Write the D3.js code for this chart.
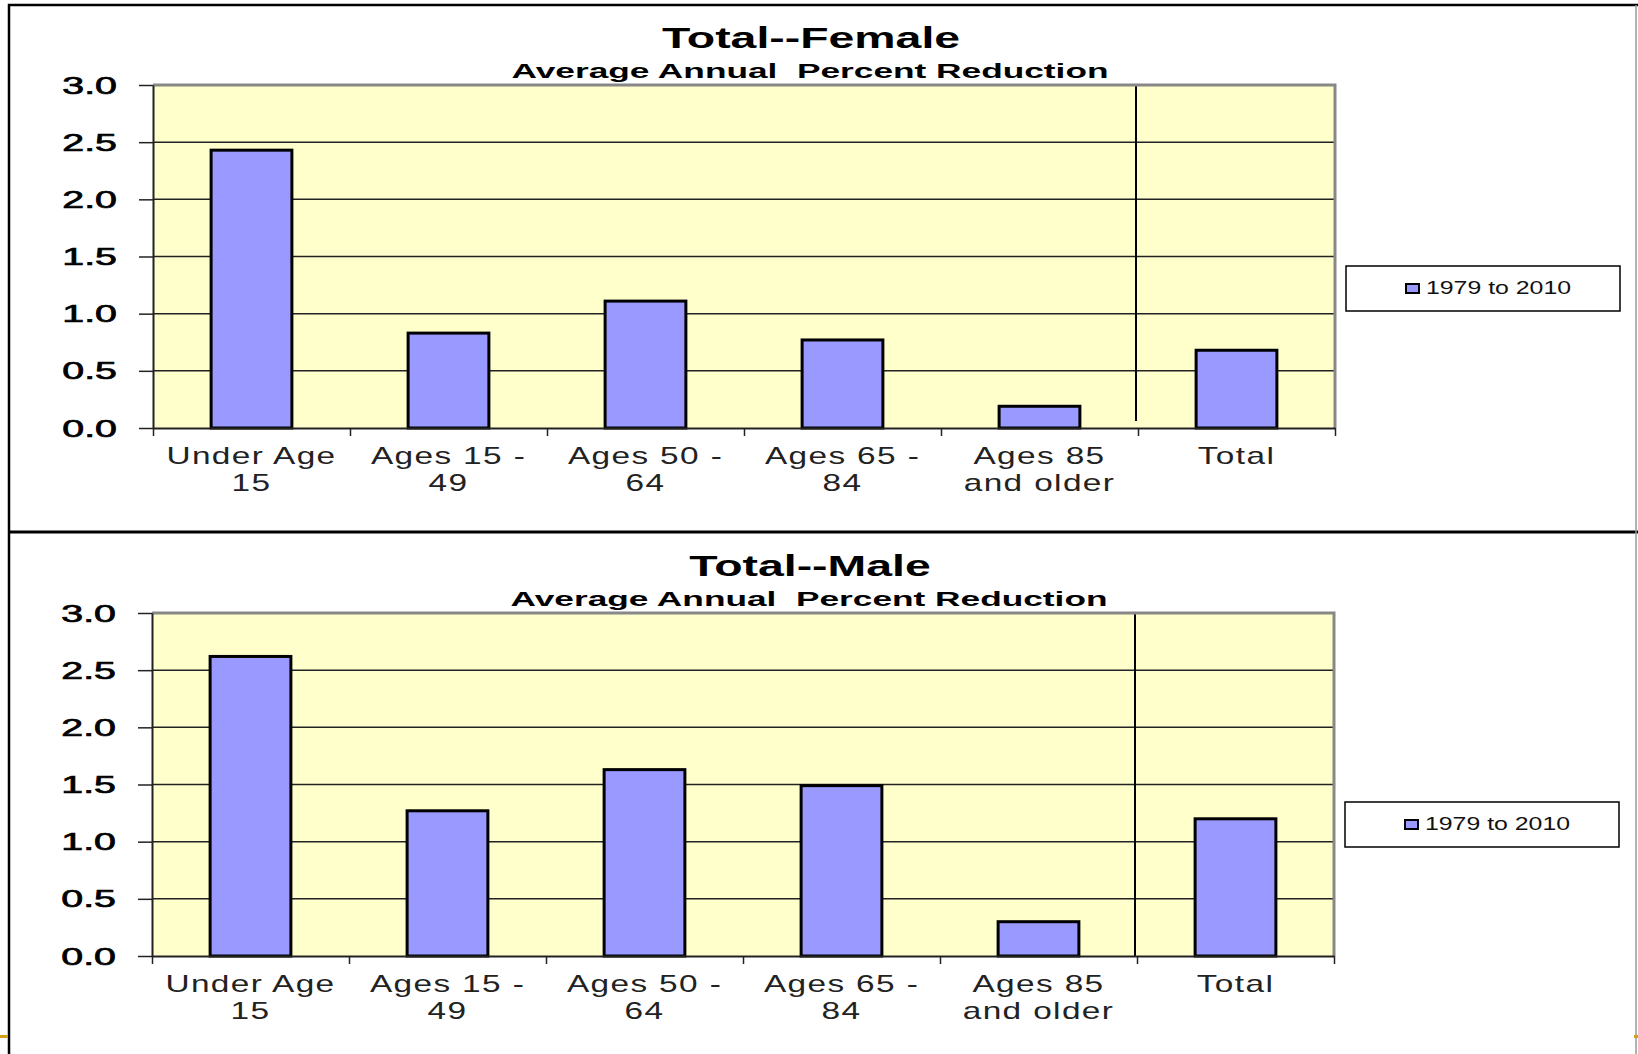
<!DOCTYPE html>
<html>
<head>
<meta charset="utf-8">
<script src="https://cdn.jsdelivr.net/npm/d3@7"></script>
<style>
  body { margin: 0; background: #fff; }
  text { font-family: "Liberation Sans", Arial, sans-serif; fill: #000; }
</style>
</head>
<body>
<div id="chart"></div>
<script>
// data
const categories = ["Under Age 15", "Ages 15 - 49", "Ages 50 - 64", "Ages 65 - 84", "Ages 85 and older", "Total"];
const categoryLines = [["Under Age", "15"], ["Ages 15 -", "49"], ["Ages 50 -", "64"], ["Ages 65 -", "84"], ["Ages 85", "and older"], ["Total"]];
const femaleValues = [2.43, 0.83, 1.11, 0.77, 0.19, 0.68];
const maleValues = [2.62, 1.27, 1.63, 1.49, 0.30, 1.20];
const yTicks = [0, 0.5, 1.0, 1.5, 2.0, 2.5, 3.0];
const panelTitles = ["Total--Female", "Total--Male"];
const subTitle = "Average Annual  Percent Reduction";
const seriesName = "1979 to 2010";

const W = 1638, H = 1054;
const barColor = "#9999ff", plotColor = "#ffffcc";

const svg = d3.select("#chart").append("svg")
    .attr("width", W)
    .attr("height", H);

svg.append("rect").attr("width", W).attr("height", H).attr("fill", "#fff");

// text in the original is stretched sideways
function stretch(sel, sx, dx, dy) {
    sel.attr("x", 0).attr("y", 0)
        .attr("transform", `translate(${dx || 0},${dy || 0}) scale(${sx},1)`);
}

function drawPanel(p) {
    const g = svg.append("g").attr("transform", `translate(${p.shift},${p.top})`);

    const x = d3.scaleBand().domain(categories).range([153, 1335]);
    const xEdge = d3.scaleLinear().domain([0, categories.length]).range([153, 1335]);
    const y = d3.scaleLinear().domain([0, 3]).range([428, 85]);
    const barW = x.bandwidth() * 0.41;

    g.append("rect")
        .attr("x", 153).attr("y", y(3))
        .attr("width", 1335 - 153).attr("height", y(0) - y(3))
        .attr("fill", plotColor);

    // grid
    g.selectAll(".grid")
        .data(yTicks.filter(d => d > 0 && d < 3))
        .enter().append("line")
        .attr("class", "grid")
        .attr("x1", 153).attr("x2", 1335)
        .attr("y1", d => y(d)).attr("y2", d => y(d))
        .attr("stroke", "#222").attr("stroke-width", 1.5);

    // separator before Total
    g.append("line")
        .attr("x1", x("Total") - 2).attr("x2", x("Total") - 2)
        .attr("y1", y(3)).attr("y2", y(0) - p.sepGap)
        .attr("stroke", "#000").attr("stroke-width", 2);

    g.selectAll(".bar")
        .data(p.data)
        .enter().append("rect")
        .attr("class", "bar")
        .attr("x", (d, i) => x(categories[i]) + (x.bandwidth() - barW) / 2)
        .attr("width", barW)
        .attr("y", d => y(d))
        .attr("height", d => y(0) - y(d))
        .attr("fill", barColor)
        .attr("stroke", "#000")
        .attr("stroke-width", 3);

    // plot border top / right
    g.append("path")
        .attr("d", `M153,${y(3)}H1335V${y(0)}`)
        .attr("fill", "none")
        .attr("stroke", "#888").attr("stroke-width", 3);

    // y axis
    const yAxis = g.append("g")
        .attr("transform", "translate(153,0)")
        .call(d3.axisLeft(y).tickValues(yTicks).tickSize(14).tickSizeOuter(0).tickFormat(d3.format(".1f")));
    yAxis.select(".domain").attr("stroke", "#222").attr("stroke-width", 2);
    yAxis.selectAll(".tick line").attr("stroke", "#222").attr("stroke-width", 1.5);
    yAxis.selectAll("text")
        .attr("dy", null)
        .style("font-size", "24px")
        .style("fill", "#000")
        .style("stroke", "#000")
        .style("stroke-width", "0.7px")
        .call(stretch, 1.64, -36, 8);

    // x axis, ticks on category edges
    const xAxis = g.append("g")
        .attr("transform", `translate(0,${y(0)})`)
        .call(d3.axisBottom(xEdge).ticks(categories.length).tickSize(8).tickSizeOuter(0).tickFormat(""));
    xAxis.select(".domain").attr("stroke", "#222").attr("stroke-width", 2);
    xAxis.selectAll(".tick line").attr("stroke", "#222").attr("stroke-width", 1.5);

    const labels = g.selectAll(".xlab")
        .data(categoryLines)
        .enter().append("g")
        .attr("class", "xlab")
        .attr("transform", (d, i) => `translate(${x(categories[i]) + x.bandwidth() / 2},${y(0)})`);
    labels.each(function (lines) {
        d3.select(this).selectAll("text")
            .data(lines)
            .enter().append("text")
            .attr("text-anchor", "middle")
            .style("font-size", "24px")
            .style("letter-spacing", "1px")
            .style("fill", "#222")
            .text(d => d)
            .each(function (d, k) { d3.select(this).call(stretch, 1.39, 0, 36 + k * 27); });
    });

    // titles
    g.append("text")
        .attr("text-anchor", "middle")
        .style("font-size", "29px").style("font-weight", "bold")
        .text(p.title)
        .call(stretch, 1.6, 811, 48);
    g.append("text")
        .attr("text-anchor", "middle")
        .style("font-size", "21px").style("font-weight", "bold")
        .style("white-space", "pre")
        .text(subTitle)
        .call(stretch, 1.68, 810, 78);

    // legend
    const lg = g.append("g").attr("transform", `translate(1346,${p.legendY})`);
    lg.append("rect")
        .attr("width", 274).attr("height", 45)
        .attr("fill", "#fff").attr("stroke", "#000").attr("stroke-width", 1.5);
    lg.append("rect")
        .attr("x", 60).attr("y", 18).attr("width", 13).attr("height", 9)
        .attr("fill", barColor).attr("stroke", "#000").attr("stroke-width", 2);
    lg.append("text")
        .style("font-size", "18px")
        .style("fill", "#111")
        .text(seriesName)
        .call(stretch, 1.38, 80, 28);
}

const panels = [
    { top: 0, shift: 0, title: panelTitles[0], data: femaleValues, legendY: 266, sepGap: 7 },
    { top: 528, shift: -1, title: panelTitles[1], data: maleValues, legendY: 274, sepGap: 0 }
];
panels.forEach(drawPanel);

// slide frame
svg.append("path")
    .attr("d", `M${W},5H9V${H}`)
    .attr("fill", "none").attr("stroke", "#000").attr("stroke-width", 2.5);
svg.append("line")
    .attr("x1", 9).attr("x2", W).attr("y1", 532).attr("y2", 532)
    .attr("stroke", "#000").attr("stroke-width", 3);
svg.append("line")
    .attr("x1", 1636).attr("x2", 1636).attr("y1", 5).attr("y2", H)
    .attr("stroke", "#999").attr("stroke-width", 1.5);
svg.append("rect").attr("x", 0).attr("y", 1035).attr("width", 8).attr("height", 3).attr("fill", "#d4a017");
svg.append("rect").attr("x", 1634).attr("y", 1035).attr("width", 4).attr("height", 3).attr("fill", "#d4a017");
</script>
</body>
</html>
